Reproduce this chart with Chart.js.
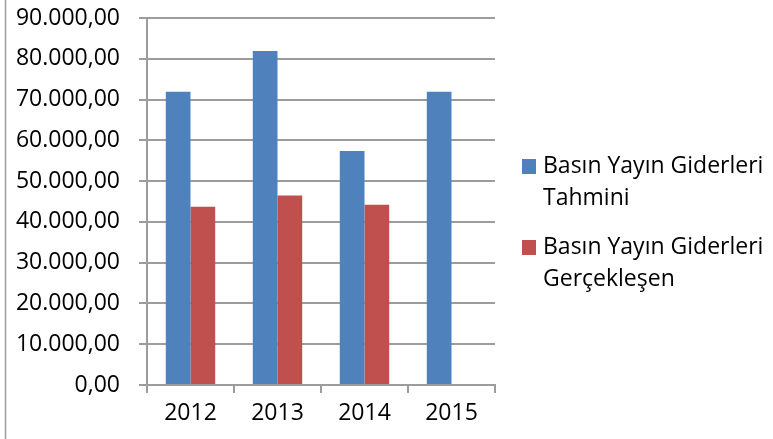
<!DOCTYPE html>
<html>
<head>
<meta charset="utf-8">
<script src="https://cdn.jsdelivr.net/npm/chart.js@4/dist/chart.umd.min.js"></script>
<style>
  html, body { margin: 0; padding: 0; background: #fff; }
  #wrap { width: 773px; height: 439px; position: relative; }
</style>
</head>
<body>
<div id="wrap"><canvas id="chart" width="773" height="439"></canvas></div>
<script>
"use strict";

// data
var years = ["2012", "2013", "2014", "2015"];
var tahmini = [71900, 81900, 57400, 71900];
var gerceklesen = [43700, 46500, 44200, null];
var legendLines = [
    ["Basın Yayın Giderleri", "Tahmini"],
    ["Basın Yayın Giderleri", "Gerçekleşen"]
];
var yMin = 0, yMax = 90000, yStep = 10000;

var FONT = "'Open Sans', 'Liberation Sans', sans-serif";
var GRID = "#9c9c9c";

// 90000 -> "90.000,00"
function trNumber(v) {
    var s = Math.round(v).toString().replace(/\B(?=(\d{3})+(?!\d))/g, ".");
    return s + ",00";
}

// legend on the right, with two-line labels, plus the left frame edge
var sideLegend = {
    id: "sideLegend",
    afterDraw: function(chart) {
        var ctx = chart.ctx;
        ctx.save();

        ctx.strokeStyle = GRID;
        ctx.lineWidth = 1.5;
        ctx.beginPath();
        ctx.moveTo(5.5, 0);
        ctx.lineTo(5.5, 439);
        ctx.stroke();

        ctx.font = "23px " + FONT;
        ctx.fillStyle = "#000";
        ctx.textBaseline = "alphabetic";
        chart.data.datasets.forEach(function(ds, i) {
            var top = 159 + i * 81;
            ctx.fillStyle = ds.backgroundColor;
            ctx.fillRect(522, top, 14, 15);
            ctx.fillStyle = "#000";
            legendLines[i].forEach(function(line, j) {
                ctx.fillText(line, 543, top + 14 + j * 32);
            });
        });
        ctx.restore();
    }
};

new Chart(document.getElementById("chart"), {
    type: "bar",
    data: {
        labels: years,
        datasets: [{
            label: legendLines[0].join(" "),
            data: tahmini,
            backgroundColor: "#4f81bd"
        }, {
            label: legendLines[1].join(" "),
            data: gerceklesen,
            backgroundColor: "#c0504d"
        }]
    },
    options: {
        responsive: false,
        animation: false,
        layout: { padding: { left: 0, right: 278, top: 18, bottom: 0 } },
        datasets: { bar: { categoryPercentage: 0.568, barPercentage: 1 } },
        plugins: {
            legend: { display: false },
            tooltip: { enabled: false }
        },
        scales: {
            x: {
                grid: { display: true, drawOnChartArea: false, drawTicks: true, tickLength: 8, color: GRID, lineWidth: 2, offset: true },
                border: { display: true, color: GRID, width: 2 },
                ticks: { color: "#000", font: { family: FONT, size: 23 }, padding: 7 },
                afterFit: function(s) { s.height = 54; s.paddingLeft = 0; s.paddingRight = 0; }
            },
            y: {
                min: yMin,
                max: yMax,
                grid: { color: GRID, lineWidth: 2, tickLength: 8 },
                border: { display: true, color: GRID, width: 2 },
                ticks: {
                    stepSize: yStep,
                    color: "#000",
                    font: { family: FONT, size: 23 },
                    padding: 19,
                    callback: function(v) { return trNumber(v); }
                },
                afterFit: function(s) { s.width = 147; s.paddingTop = 0; s.paddingBottom = 0; }
            }
        }
    },
    plugins: [sideLegend]
});
</script>
</body>
</html>
